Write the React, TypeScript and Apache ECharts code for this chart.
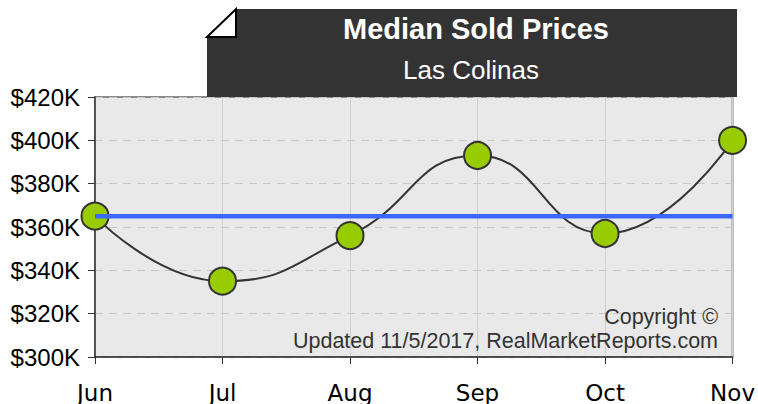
import React, { useEffect, useRef } from "react";
import * as echarts from "echarts";

const months = ["Jun", "Jul", "Aug", "Sep", "Oct", "Nov"];
const medianPrices = [365, 335, 356, 393, 357, 400];
const averageLine = [365, 365, 365, 365, 365, 365];
const yTicks = { min: 300, max: 420, interval: 20 };
const titleText = "Median Sold Prices";
const subtitleText = "Las Colinas";
const copyrightLines = ["Copyright ©", "Updated 11/5/2017, RealMarketReports.com"];

export default function App() {
  const ref = useRef<HTMLDivElement>(null);
  useEffect(() => {
    if (!ref.current) return;
    const chart = echarts.init(ref.current, null, { renderer: "svg" });
    chart.setOption({
      animation: false,
      backgroundColor: "#ffffff",
      grid: {
        left: 95,
        top: 97,
        width: 642,
        height: 260,
        show: true,
        backgroundColor: "#e9e9e9",
        borderColor: "#8a8a8a",
        borderWidth: 2,
      },
      xAxis: {
        type: "category",
        data: months,
        boundaryGap: false,
        axisLine: { show: true, lineStyle: { color: "#333", width: 1.5 } },
        axisTick: { show: true, alignWithLabel: true, length: 7, lineStyle: { color: "#333" } },
        axisLabel: {
          color: "#000",
          fontFamily: "DejaVu Sans",
          fontSize: 23,
          margin: 24,
        },
        splitLine: { show: true, lineStyle: { color: "#cfcfcf", width: 1 } },
      },
      yAxis: {
        type: "value",
        min: yTicks.min,
        max: yTicks.max,
        interval: yTicks.interval,
        axisLine: { show: true, lineStyle: { color: "#333", width: 1.5 } },
        axisTick: { show: true, length: 7, lineStyle: { color: "#333" } },
        axisLabel: {
          color: "#000",
          fontFamily: "Liberation Sans",
          fontSize: 24,
          margin: 15,
          formatter: (v: number) => "$" + v + "K",
        },
        splitLine: { show: true, lineStyle: { color: "#c8c8c8", type: [8, 6], width: 1 } },
      },
      series: [
        {
          type: "line",
          data: medianPrices,
          smooth: 0.5,
          symbol: "circle",
          symbolSize: 27,
          lineStyle: { color: "#333", width: 2 },
          itemStyle: { color: "#99cc00", borderColor: "#333", borderWidth: 2 },
          z: 2,
        },
        {
          type: "line",
          data: averageLine,
          symbol: "none",
          lineStyle: { color: "#3b66ff", width: 4.5 },
          z: 3,
        },
      ],
      graphic: [
        {
          type: "polygon",
          shape: { points: [[207, 37], [236, 9], [737, 9], [737, 97], [207, 97]] },
          style: { fill: "#333333" },
          z: 10,
        },
        {
          type: "polygon",
          shape: { points: [[207, 37], [236, 9], [236, 37]] },
          style: { fill: "#ffffff", stroke: "#000", lineWidth: 2 },
          z: 11,
        },
        {
          type: "text",
          x: 476,
          y: 29,
          style: {
            text: titleText,
            fill: "#ffffff",
            font: "bold 29px 'Liberation Sans', Arial, sans-serif",
            align: "center",
            verticalAlign: "middle",
          },
          z: 12,
        },
        {
          type: "text",
          x: 471,
          y: 70,
          style: {
            text: subtitleText,
            fill: "#ffffff",
            font: "26px 'Liberation Sans', Arial, sans-serif",
            align: "center",
            verticalAlign: "middle",
          },
          z: 12,
        },
        {
          type: "text",
          x: 718,
          y: 317,
          style: {
            text: copyrightLines[0],
            fill: "#333",
            font: "21.5px 'Liberation Sans', Arial, sans-serif",
            align: "right",
            verticalAlign: "middle",
          },
          z: 12,
        },
        {
          type: "text",
          x: 718,
          y: 341,
          style: {
            text: copyrightLines[1],
            fill: "#333",
            font: "21.5px 'Liberation Sans', Arial, sans-serif",
            align: "right",
            verticalAlign: "middle",
          },
          z: 12,
        },
      ],
    });
    return () => chart.dispose();
  }, []);
  return (
    <div
      ref={ref}
      style={{ position: "fixed", left: 0, top: 0, width: 758, height: 404 }}
    />
  );
}
